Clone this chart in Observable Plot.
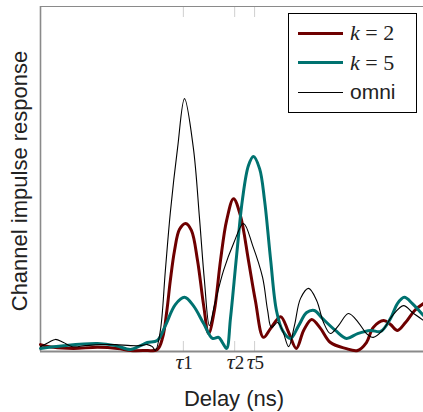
<!DOCTYPE html>
<html>
<head>
<meta charset="utf-8">
<script src="https://cdn.jsdelivr.net/npm/d3@7"></script>
<script src="https://cdn.jsdelivr.net/npm/@observablehq/plot@0.6"></script>
<style>
  body { margin: 0; background: #fff; }
  #wrap { position: relative; width: 423px; height: 412px; }
  #legend {
    position: absolute; left: 288px; top: 13px; width: 127px; height: 98px;
    border: 1px solid #000; background: #fff; box-sizing: content-box;
  }
  .row { position: absolute; left: 0; height: 30px; display: flex; align-items: center; }
  .swatch { width: 45px; margin-left: 9px; margin-right: 7px; }
  .math { font-family: "Liberation Serif", serif; font-size: 22px; }
  .math i { font-style: italic; }
  .sans { font-family: "Liberation Sans", Arial, sans-serif; font-size: 21px; }
</style>
</head>
<body>
<div id="wrap"></div>
<script>
// Series: delay (ns, arbitrary 0-100 scale) and normalized response
const k2Delay = [0, 3.4, 8.6, 14.9, 20.1, 23.5, 26.9, 30.5, 31.9, 33.0, 33.9, 35.0, 36.3, 37.9, 39.4, 41.0, 42.6, 43.9, 45.4, 47.0, 48.6, 50.4, 52.2, 54.3, 56.1, 58.2, 60.1, 62.7, 64.8, 66.8, 68.7, 70.8, 73.1, 75.7, 79.6, 82.8, 85.1, 86.9, 89.6, 91.4, 93.2, 95.3, 97.7, 100];
const k2Resp  = [0.020, 0.012, 0.009, 0.012, 0.009, 0.003, 0.003, 0.006, 0.041, 0.119, 0.206, 0.293, 0.354, 0.371, 0.351, 0.264, 0.133, 0.052, 0.119, 0.264, 0.380, 0.443, 0.394, 0.264, 0.148, 0.041, 0.067, 0.101, 0.055, 0.009, 0.061, 0.093, 0.067, 0.026, 0.009, 0.003, 0.026, 0.070, 0.090, 0.078, 0.061, 0.084, 0.119, 0.139];

const k5Delay = [0, 6.0, 14.9, 19.6, 23.5, 26.1, 27.9, 30.5, 32.6, 35.2, 37.6, 39.9, 42.6, 44.9, 46.5, 47.5, 48.6, 49.6, 51.2, 52.7, 54.3, 55.6, 57.2, 58.5, 60.1, 61.6, 63.2, 65.3, 67.4, 69.5, 71.5, 73.6, 77.0, 79.9, 82.8, 86.2, 88.8, 91.4, 93.2, 95.0, 97.1, 100];
const k5Resp  = [0.009, 0.017, 0.023, 0.017, 0.006, 0.017, 0.026, 0.032, 0.075, 0.136, 0.157, 0.133, 0.081, 0.038, 0.041, 0.026, 0.009, 0.096, 0.278, 0.438, 0.539, 0.565, 0.530, 0.438, 0.264, 0.119, 0.061, 0.038, 0.075, 0.113, 0.119, 0.096, 0.061, 0.038, 0.052, 0.061, 0.058, 0.096, 0.139, 0.157, 0.139, 0.104];

const omniDelay = [0, 2.1, 3.9, 6.0, 8.4, 11.7, 15.7, 19.6, 23.5, 26.1, 27.9, 29.2, 30.0, 31.3, 32.6, 33.9, 35.8, 37.6, 39.9, 41.5, 42.8, 44.1, 45.4, 47.8, 50.4, 53.0, 55.4, 58.0, 59.3, 60.3, 61.9, 63.2, 64.8, 66.3, 67.9, 70.0, 72.1, 73.9, 75.7, 77.8, 80.4, 83.0, 85.1, 86.9, 89.3, 91.9, 94.8, 97.1, 100];
const omniResp  = [0.014, 0.026, 0.035, 0.026, 0.014, 0.017, 0.020, 0.020, 0.017, 0.017, 0.020, 0.014, 0.003, 0.061, 0.235, 0.403, 0.591, 0.733, 0.591, 0.388, 0.206, 0.075, 0.133, 0.235, 0.313, 0.371, 0.307, 0.214, 0.119, 0.070, 0.084, 0.061, 0.014, 0.075, 0.154, 0.183, 0.148, 0.084, 0.052, 0.075, 0.110, 0.084, 0.052, 0.041, 0.061, 0.104, 0.133, 0.113, 0.090];

const tickDelay  = [37.3, 50.7, 55.9];
const tickLabels = ["τ1", "τ2", "τ5"];

const seriesNames  = ["k = 2", "k = 5", "omni"];
const seriesColors = ["#6e0000", "#007270", "#000000"];
const seriesWidths = [3, 3, 1.1];

const xLabel = "Delay (ns)";
const yLabel = "Channel impulse response";

const toRows = (xs, ys) => xs.map((x, i) => ({x, y: ys[i]}));
const k2 = toRows(k2Delay, k2Resp);
const k5 = toRows(k5Delay, k5Resp);
const omni = toRows(omniDelay, omniResp);

const sans = "Liberation Sans, Arial, sans-serif";

const chart = Plot.plot({
  width: 423,
  height: 412,
  marginLeft: 40,
  marginRight: 0,
  marginTop: 6,
  marginBottom: 61,
  x: {domain: [0, 100], axis: null},
  y: {domain: [0, 1], axis: null},
  style: {background: "white", overflow: "visible"},
  marks: [
    Plot.axisX({anchor: "bottom", label: null, ticks: tickDelay, tickSize: -10, tickFormat: () => "", stroke: "#cfcfcf"}),
    Plot.axisX({anchor: "top", label: null, ticks: tickDelay, tickSize: -10, tickFormat: () => "", stroke: "#cfcfcf"}),
    Plot.ruleY([1], {stroke: "#8a8a8a", strokeWidth: 1.2}),
    Plot.ruleX([0], {stroke: "#8a8a8a", strokeWidth: 1.6}),
    Plot.ruleY([0], {stroke: "#8a8a8a", strokeWidth: 2}),
    Plot.line(k2, {x: "x", y: "y", curve: "catmull-rom", stroke: seriesColors[0], strokeWidth: seriesWidths[0]}),
    Plot.line(k5, {x: "x", y: "y", curve: "catmull-rom", stroke: seriesColors[1], strokeWidth: seriesWidths[1]}),
    Plot.line(omni, {x: "x", y: "y", curve: "catmull-rom", stroke: seriesColors[2], strokeWidth: seriesWidths[2]}),
    Plot.text(tickDelay, {x: d => d, frameAnchor: "bottom", dy: 17, text: (d, i) => tickLabels[i].slice(0, 1),
      textAnchor: "end", fontFamily: "Liberation Serif, serif", fontStyle: "italic", fontSize: 22, fill: "#222"}),
    Plot.text(tickDelay, {x: d => d, frameAnchor: "bottom", dy: 17, text: (d, i) => tickLabels[i].slice(1),
      textAnchor: "start", fontFamily: "Liberation Serif, serif", fontSize: 19, fill: "#222"}),
    Plot.text([xLabel], {frameAnchor: "bottom", dx: 2, dy: 54, text: d => d, textAnchor: "middle", fontFamily: sans, fontSize: 22, fill: "#222"}),
    Plot.text([yLabel], {frameAnchor: "left", dx: -21, dy: 2, rotate: -90, text: d => d, textAnchor: "middle", fontFamily: sans, fontSize: 22, fill: "#222"})
  ]
});

const wrap = document.getElementById("wrap");
wrap.appendChild(chart);

// Legend (inside the plot area, top-right)
const legend = document.createElement("div");
legend.id = "legend";
seriesNames.forEach((name, i) => {
  const row = document.createElement("div");
  row.className = "row";
  row.style.top = (4 + i * 29.5) + "px";
  const sw = document.createElement("div");
  sw.className = "swatch";
  sw.style.borderTop = seriesWidths[i] + "px solid " + seriesColors[i];
  row.appendChild(sw);
  const lab = document.createElement("span");
  if (name.startsWith("k")) {
    lab.className = "math";
    const parts = name.split(" = ");
    lab.innerHTML = "<i>" + parts[0] + "</i>&nbsp;=&nbsp;" + parts[1];
  } else {
    lab.className = "sans";
    lab.textContent = name;
  }
  lab.style.color = "#222";
  row.appendChild(lab);
  legend.appendChild(row);
});
wrap.appendChild(legend);
</script>
</body>
</html>
